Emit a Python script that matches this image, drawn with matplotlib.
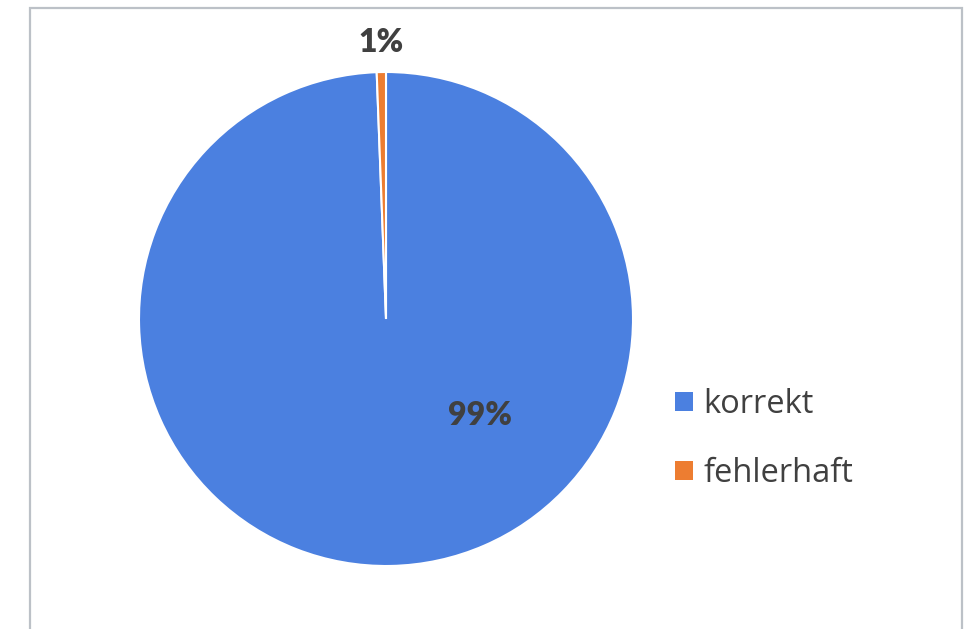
import matplotlib
matplotlib.use("Agg")
import matplotlib.pyplot as plt
from matplotlib.patches import Rectangle

plt.rcParams['font.family'] = ['Lato', 'DejaVu Sans']

labels = ["korrekt", "fehlerhaft"]
values = [99.4, 0.6]
colors = ["#4B80E0", "#ED7D31"]
text_color = "#404040"

W, H = 972, 629
fig = plt.figure(figsize=(W / 100, H / 100), dpi=100)

# chart frame (clipped at the bottom like the screenshot)
fig.patches.append(Rectangle((30 / W, -0.05), 932 / W, 1.05 - 8 / H,
                             transform=fig.transFigure, fill=False,
                             edgecolor="#BCC1C7", linewidth=1.6))

# pie area: center (386, 319), radius 247 px
ax = fig.add_axes([139 / W, (H - 566) / H, 494 / W, 494 / H])
wedges, _ = ax.pie(values, colors=colors, startangle=90, counterclock=False,
                   radius=1.0, wedgeprops=dict(edgecolor="white", linewidth=1.5))
ax.set_xlim(-1, 1)
ax.set_ylim(-1, 1)
ax.set_aspect("equal")
ax.axis("off")

# data labels
pcts = [f"{round(v):.0f}%" for v in values]
ax.text(0.38, -0.39, pcts[0], ha="center", va="center", fontsize=23,
        fontweight="heavy", color=text_color)
ax.text(-0.02, 1.12, pcts[1], ha="center", va="center", fontsize=23,
        fontweight="heavy", color=text_color)

leg = fig.legend(wedges, labels, loc="center left", bbox_to_anchor=(646 / W, 1 - 439 / H),
                 frameon=False, prop={"family": "Open Sans", "size": 23.5},
                 handlelength=0.53, handleheight=0.53,
                 handletextpad=0.33, labelspacing=1.1, labelcolor=text_color)
for h in leg.legend_handles:
    h.set_edgecolor("none")

fig.savefig("out.png", dpi=100)
